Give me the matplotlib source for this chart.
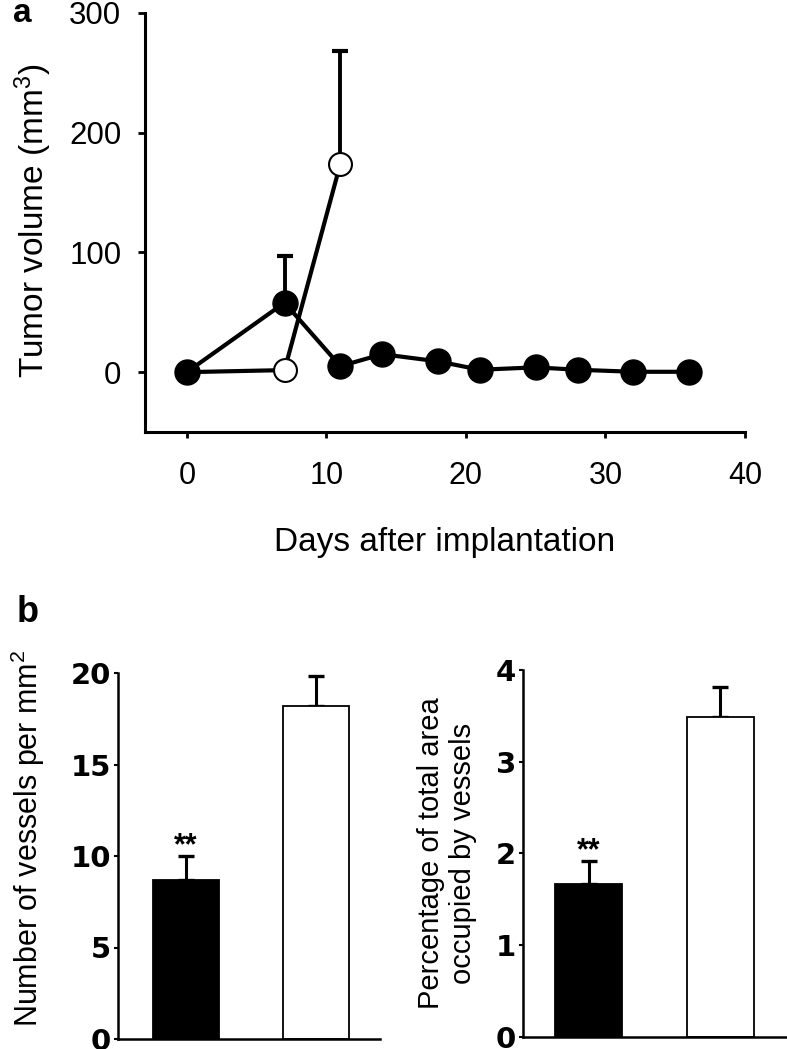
import matplotlib
matplotlib.use("Agg")
import matplotlib.pyplot as plt

# Panel a: tumor volume over time
days_filled = [0, 7, 11, 14, 18, 21, 25, 28, 32, 36]
vol_filled = [0, 58, 5, 15, 9, 2, 4, 2, 0.3, 0.3]
err_filled = [0, 39, 0, 0, 0, 0, 0, 0, 0, 0]
days_open = [0, 7, 11]
vol_open = [0, 1.7, 174]
err_open = [0, 0, 94]

# Panel b: vessel density / area
groups = [0, 1]
vessels = [8.7, 18.2]
vessels_err = [1.3, 1.65]
area_pct = [1.67, 3.49]
area_err = [0.25, 0.32]
bar_colors = ["black", "white"]

plt.rcParams["font.family"] = ["Liberation Sans", "DejaVu Sans"]
plt.rcParams["mathtext.fontset"] = "custom"
plt.rcParams["mathtext.rm"] = "Liberation Sans"
plt.rcParams["mathtext.it"] = "Liberation Sans:italic"
plt.rcParams["mathtext.bf"] = "Liberation Sans:bold"

W, H = 787, 1049
fig = plt.figure(figsize=(W / 100, H / 100), dpi=100)


def box(x0, y0, x1, y1):
    # pixel box (top-left origin) -> figure fraction rect
    return [x0 / W, 1 - y1 / H, (x1 - x0) / W, (y1 - y0) / H]


# ---- panel a ----
ax = fig.add_axes(box(145, 13, 745, 432))
ax.plot(days_filled, vol_filled, "-", color="black", lw=3, zorder=2)
ax.plot(days_open, vol_open, "-", color="black", lw=3, zorder=3)
ax.errorbar(days_filled, vol_filled, yerr=[[0] * len(err_filled), err_filled],
            fmt="none", ecolor="black", elinewidth=2.8, capsize=6,
            capthick=3, zorder=2)
ax.errorbar(days_open, vol_open, yerr=[[0] * len(err_open), err_open],
            fmt="none", ecolor="black", elinewidth=2.8, capsize=6,
            capthick=3, zorder=2)
ax.plot(days_open, vol_open, "o", ms=16.5, mfc="white", mec="black",
        mew=1.5, zorder=4)
ax.plot(days_filled, vol_filled, "o", ms=18, mfc="black", mec="black",
        zorder=5)

ax.set_xlim(-3, 40)
ax.set_ylim(-50, 300)
ax.set_xticks([0, 10, 20, 30, 40])
ax.set_yticks([0, 100, 200, 300])
for s in ["top", "right"]:
    ax.spines[s].set_visible(False)
for s in ["left", "bottom"]:
    ax.spines[s].set_linewidth(2.2)
ax.tick_params(axis="y", direction="out", length=5, width=2, pad=12,
               labelsize=22.5)
ax.tick_params(axis="x", direction="out", length=4, width=2, pad=17,
               labelsize=22)
ax.set_xlabel("Days after implantation", fontsize=24, labelpad=26)
fig.text(33 / W, 1 - 221 / H, r"Tumor volume (mm$^\mathrm{3}$)", fontsize=24,
         rotation=90, ha="center", va="center")
fig.text(13 / W, 1 - 22 / H, "a", fontsize=24, fontweight="bold",
         ha="left", va="baseline")

# ---- panel b ----
fig.text(17 / W, 1 - 622 / H, "b", fontsize=26, fontweight="bold",
         ha="left", va="baseline")


def bar_panel(ax, vals, errs, ymax, step, xlim):
    ax.bar(groups, vals, width=0.51, color=bar_colors, edgecolor="black",
           linewidth=1.3, zorder=2)
    ax.errorbar(groups, vals, yerr=[[0, 0], errs], fmt="none",
                ecolor="black", elinewidth=2.2, capsize=6, capthick=2.4,
                zorder=1)
    ax.annotate("**", (groups[0], vals[0] + errs[0]), xytext=(0, 1),
                textcoords="offset points", ha="center", va="baseline",
                fontsize=22, fontweight="bold")
    ax.set_xlim(*xlim)
    ax.set_ylim(0, ymax)
    ax.set_yticks([i * step for i in range(5)])
    ax.set_xticks([])
    for s in ["top", "right"]:
        ax.spines[s].set_visible(False)
    for s in ["left", "bottom"]:
        ax.spines[s].set_linewidth(1.8)
    ax.tick_params(axis="y", direction="out", length=3, width=1.5, pad=2,
                   labelsize=21)
    for lab in ax.get_yticklabels():
        lab.set_fontfamily("DejaVu Sans")
        lab.set_fontweight("bold")


ax1 = fig.add_axes(box(118, 673, 380, 1039))
bar_panel(ax1, vessels, vessels_err, 20, 5, (-0.52, 1.49))
fig.text(28 / W, 1 - 838 / H, r"Number of vessels per mm$^\mathrm{2}$",
         fontsize=22, rotation=90, ha="center", va="center")

ax2 = fig.add_axes(box(523, 670, 787, 1036.7))
bar_panel(ax2, area_pct, area_err, 4, 1, (-0.5, 1.51))
fig.text(447 / W, 1 - 853 / H,
         "Percentage of total area\noccupied by vessels",
         fontsize=21, rotation=90, ha="center", va="center",
         multialignment="center", linespacing=1.15)

fig.savefig("out.png", dpi=100)
